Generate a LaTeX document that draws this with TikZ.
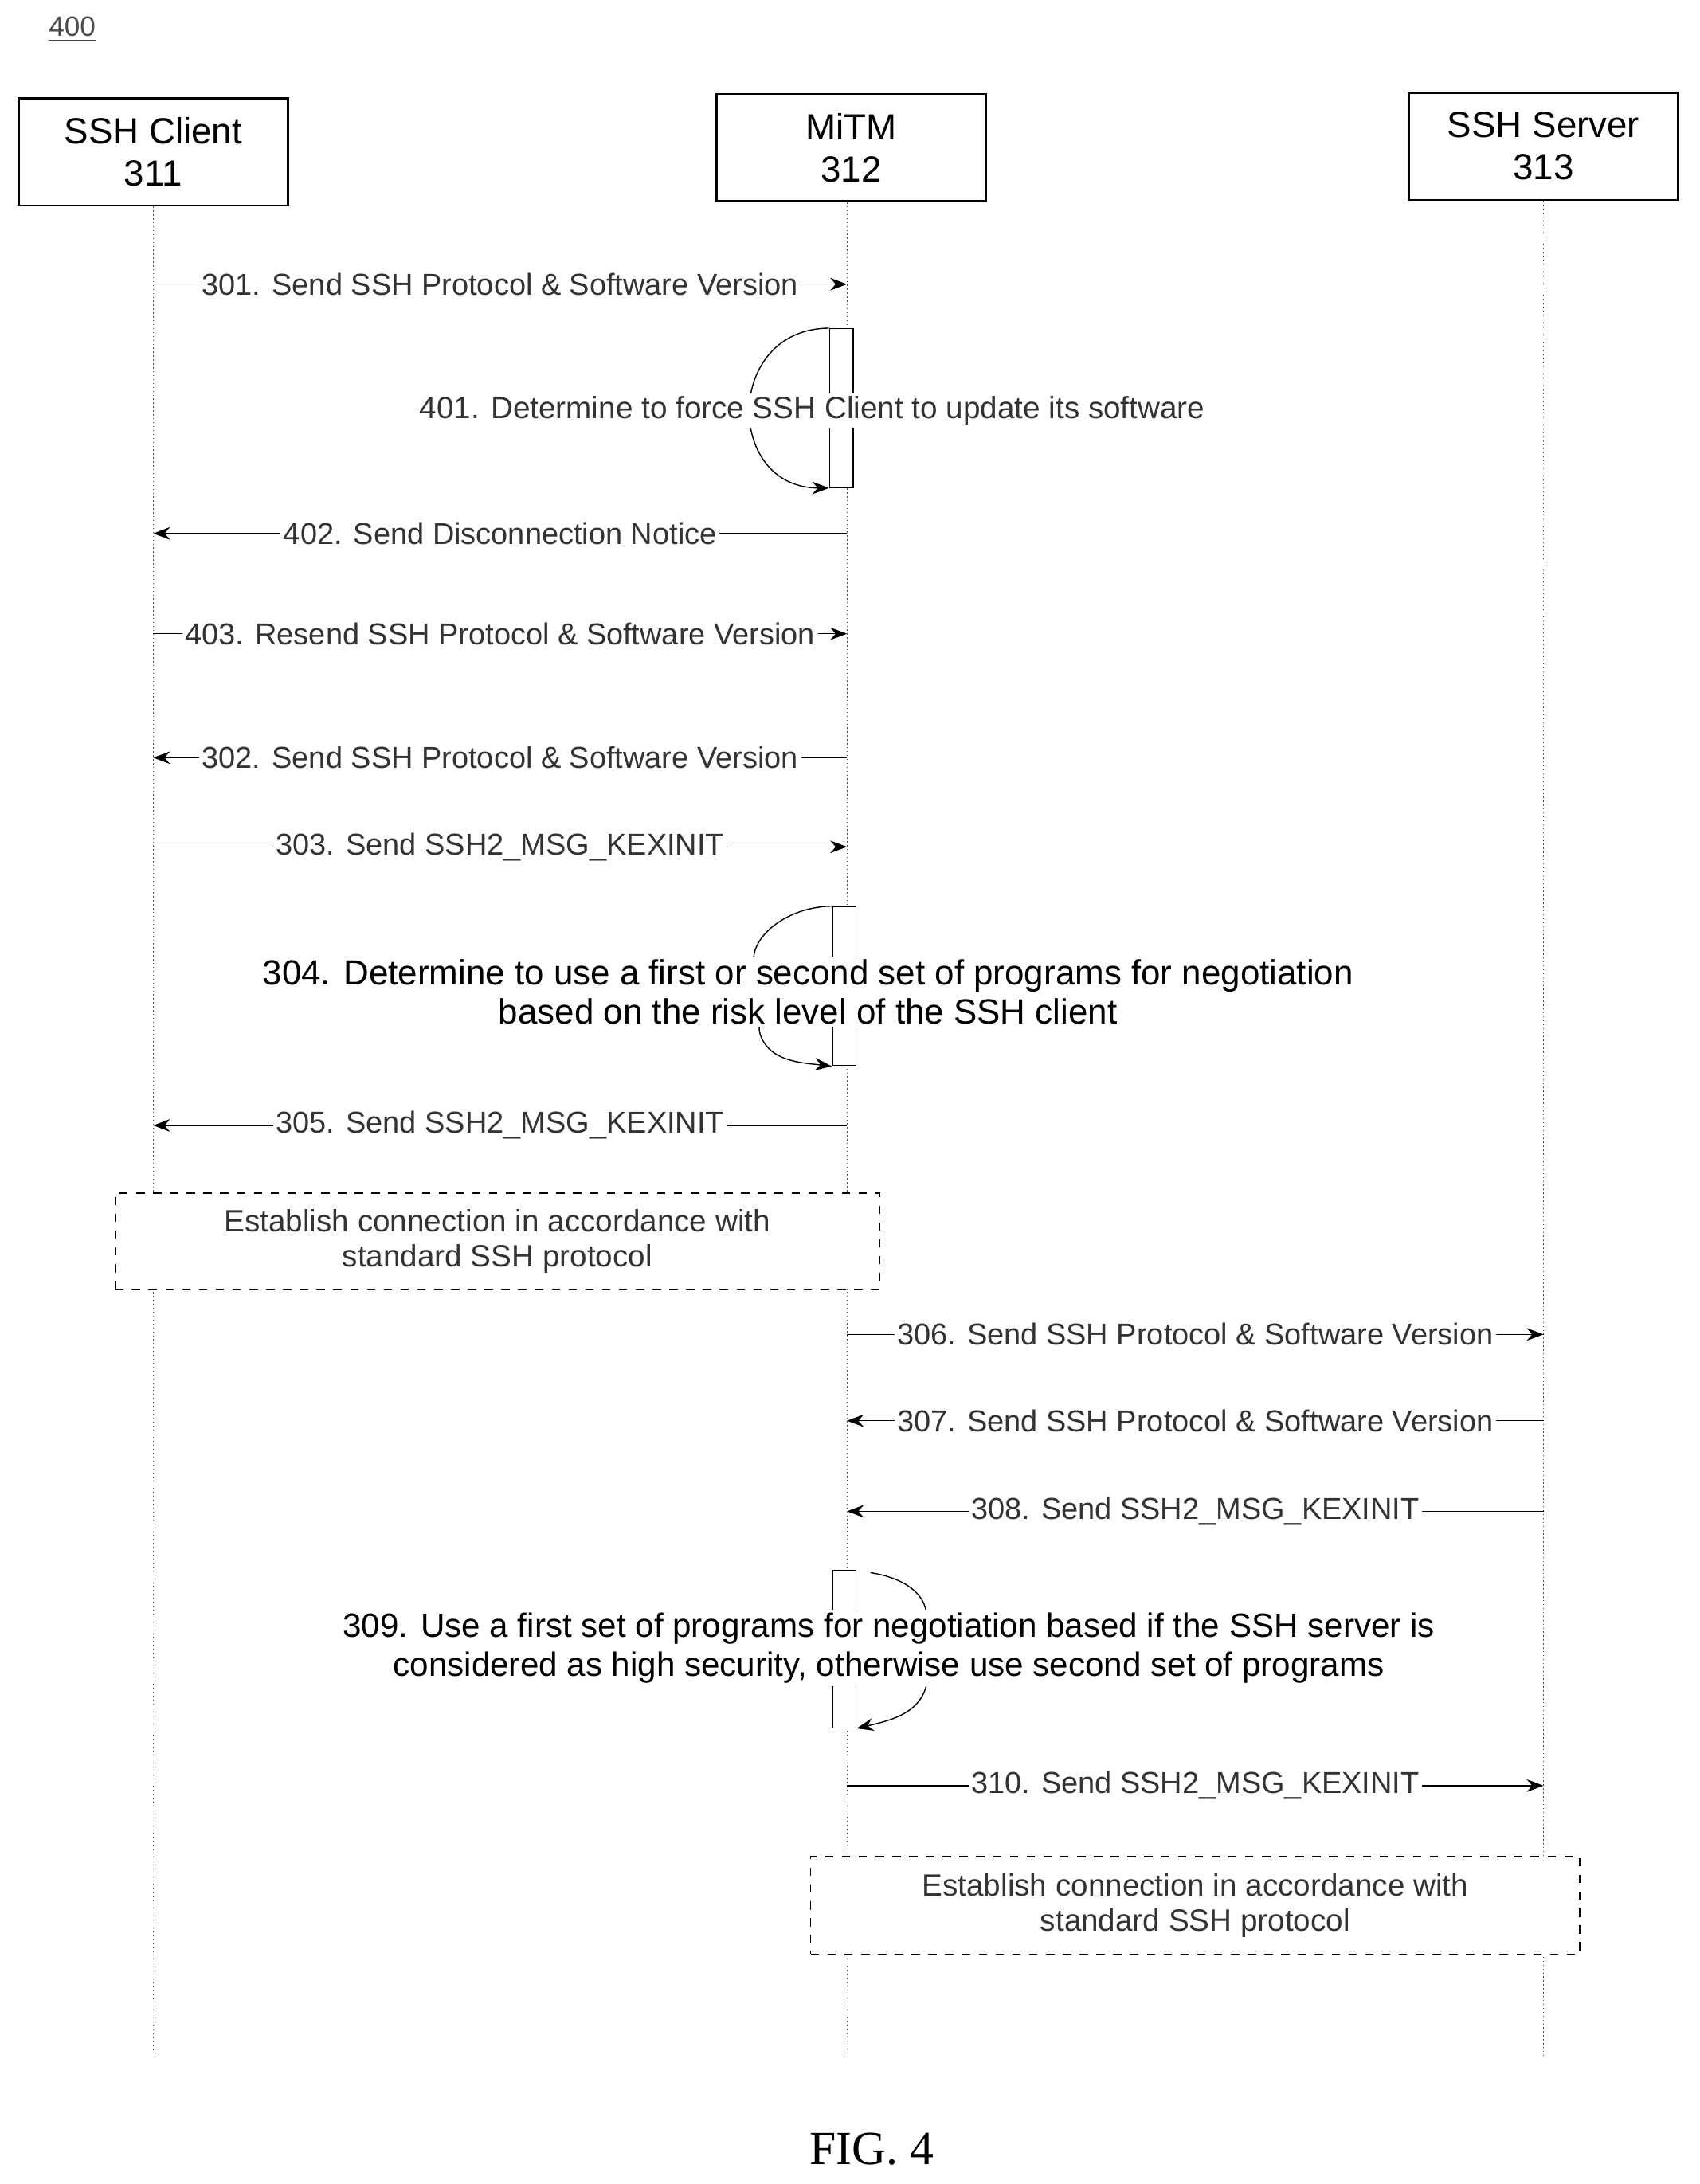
\documentclass[tikz,border=0pt]{standalone}
\usepackage{fontspec}
\setmainfont{Liberation Sans}
\newfontfamily\figfont{Liberation Serif}
\usetikzlibrary{arrows.meta,positioning,calc}

\tikzset{
  actor/.style={draw, thick, minimum width=193*0.01748cm, minimum height=77*0.01748cm, align=center, font=\fontsize{13}{15}\selectfont},
  life/.style={densely dotted, gray!60!black},
  msg/.style={-{Stealth[length=6pt]}, black},
  lbl/.style={fill=white, inner sep=1pt, font=\fontsize{10.8}{12}\selectfont, text=black!80},
  note/.style={fill=white, inner sep=1pt, align=center, font=\fontsize{12.5}{14}\selectfont},
  estab/.style={draw, dashed, fill=white, align=center, font=\fontsize{11}{12.5}\selectfont, text=black!80}
}

\begin{document}
\begin{tikzpicture}[x=0.01748cm, y=-0.01748cm]
  \useasboundingbox (0,0) rectangle (1220,1568);
  \node[anchor=base west, font=\fontsize{10}{11}\selectfont, text=black!70] (fig) at (28,26) {\underline{400}};
  % actors
  \node[actor] (client) at (110,109) {SSH Client\\311};
  \node[actor] (mitm) at (611,106) {MiTM\\312};
  \node[actor] (server) at (1108,105) {SSH Server\\313};
  \coordinate (cl) at (110,1478);
  \coordinate (ml) at (608,1478);
  \coordinate (sl) at (1108,1478);
  \draw[life] (client) -- (cl);
  \draw[life] (mitm.south -| ml) -- (ml);
  \draw[life] (server) -- (sl);

  % messages
  \draw[msg] (cl |- 0,204) -- node[lbl]{301. Send SSH Protocol \& Software Version} (ml |- 0,204);
  % 401
  \node[draw, fill=white, minimum width=17*0.01748cm, minimum height=114*0.01748cm, inner sep=0] (act1) at (604,293) {};
  \draw[msg] (act1.north west) .. controls (520,236) and (520,350) .. (act1.south west);
  \node[lbl, font=\fontsize{11}{12}\selectfont] (n401) at (583,295) {401. Determine to force SSH Client to update its software};
  \draw[msg] (ml |- 0,383) -- node[lbl]{402. Send Disconnection Notice} (cl |- 0,383);
  \draw[msg] (cl |- 0,455) -- node[lbl]{403. Resend SSH Protocol \& Software Version} (ml |- 0,455);
  \draw[msg] (ml |- 0,544) -- node[lbl]{302. Send SSH Protocol \& Software Version} (cl |- 0,544);
  \draw[msg] (cl |- 0,608) -- node[lbl]{303. Send SSH2\_MSG\_KEXINIT} (ml |- 0,608);
  % 304
  \node[draw, fill=white, minimum width=17*0.01748cm, minimum height=114*0.01748cm, inner sep=0] (act2) at (606,708) {};
  \draw[msg] (act2.north west) .. controls (560,651) and (530,680) .. (545,700) -- (545,740) .. controls (550,762) and (575,763) .. (act2.south west);
  \node[note] (n304) at (580,712) {304. Determine to use a first or second set of programs for negotiation\\based on the risk level of the SSH client};
  \draw[msg] (ml |- 0,808) -- node[lbl]{305. Send SSH2\_MSG\_KEXINIT} (cl |- 0,808);
  \node[estab, minimum width=549*0.01748cm, minimum height=69*0.01748cm] (est1) at (357,891) {Establish connection in accordance with\\standard SSH protocol};

  \draw[msg] (ml |- 0,958) -- node[lbl]{306. Send SSH Protocol \& Software Version} (sl |- 0,958);
  \draw[msg] (sl |- 0,1020) -- node[lbl]{307. Send SSH Protocol \& Software Version} (ml |- 0,1020);
  \draw[msg] (sl |- 0,1085) -- node[lbl]{308. Send SSH2\_MSG\_KEXINIT} (ml |- 0,1085);
  % 309
  \node[draw, fill=white, minimum width=17*0.01748cm, minimum height=113*0.01748cm, inner sep=0] (act3) at (606,1184) {};
  \draw[msg] (act3.north east) ++(10,2) .. controls (650,1133) and (665,1145) .. (665,1160) -- (665,1210) .. controls (660,1230) and (640,1235) .. (act3.south east);
  \node[note, font=\fontsize{12}{14}\selectfont] (n309) at (638,1183) {309. Use a first set of programs for negotiation based if the SSH server is\\considered as high security, otherwise use second set of programs};
  \draw[msg] (ml |- 0,1282) -- node[lbl]{310. Send SSH2\_MSG\_KEXINIT} (sl |- 0,1282);
  \node[estab, minimum width=552*0.01748cm, minimum height=70*0.01748cm] (est2) at (858,1368) {Establish connection in accordance with\\standard SSH protocol};

  \node[font=\figfont\fontsize{17}{19}\selectfont] (caption) at (626,1543) {FIG. 4};
\end{tikzpicture}
\end{document}
